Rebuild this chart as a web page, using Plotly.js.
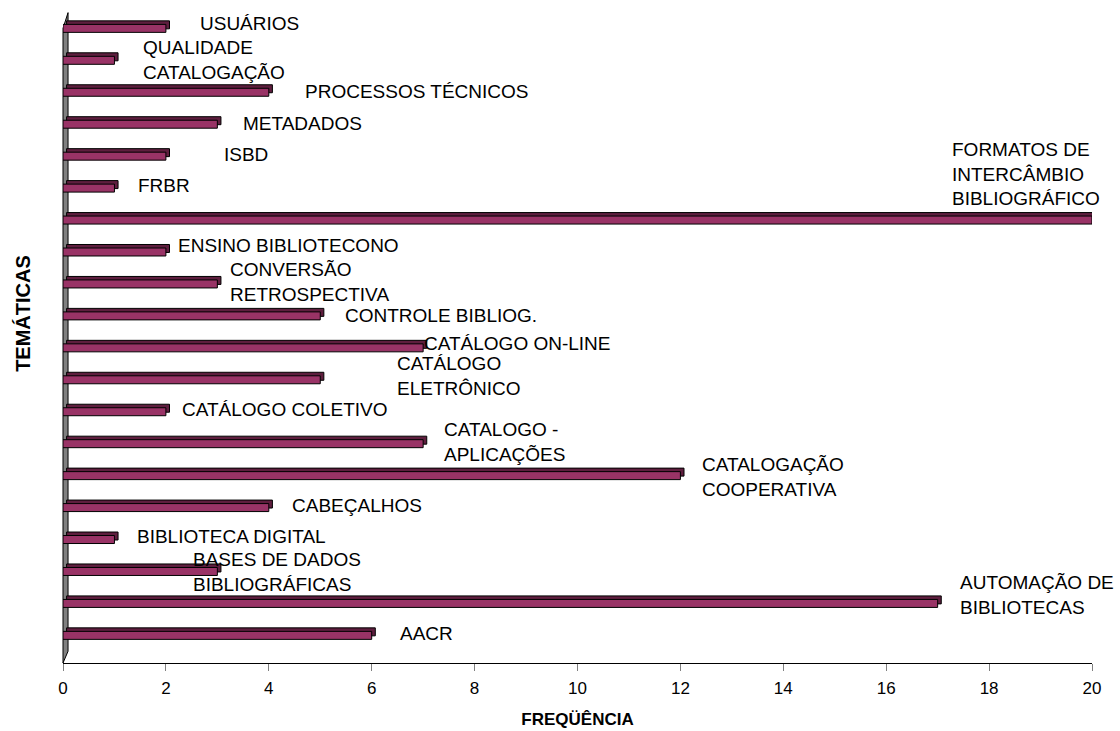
<!DOCTYPE html>
<html>
<head>
<meta charset="utf-8">
<script src="https://cdn.plot.ly/plotly-3.0.1.min.js"></script>
<style>html,body{margin:0;padding:0;background:#fff}#chart{width:1120px;height:731px}</style>
</head>
<body>
<div id="chart"></div>
<script>
// Categories bottom → top
var categories = [
  "AACR",
  "AUTOMAÇÃO DE BIBLIOTECAS",
  "BASES DE DADOS BIBLIOGRÁFICAS",
  "BIBLIOTECA DIGITAL",
  "CABEÇALHOS",
  "CATALOGAÇÃO COOPERATIVA",
  "CATALOGO - APLICAÇÕES",
  "CATÁLOGO COLETIVO",
  "CATÁLOGO ELETRÔNICO",
  "CATÁLOGO ON-LINE",
  "CONTROLE BIBLIOG.",
  "CONVERSÃO RETROSPECTIVA",
  "ENSINO BIBLIOTECONO",
  "FORMATOS DE INTERCÂMBIO BIBLIOGRÁFICO",
  "FRBR",
  "ISBD",
  "METADADOS",
  "PROCESSOS TÉCNICOS",
  "QUALIDADE CATALOGAÇÃO",
  "USUÁRIOS"
];
var frequencies = [6, 17, 3, 1, 4, 12, 7, 2, 5, 7, 5, 3, 2, 20, 1, 2, 3, 4, 1, 2];
var labelTexts = [
  "AACR",
  "AUTOMAÇÃO DE<br>BIBLIOTECAS",
  "BASES DE DADOS<br>BIBLIOGRÁFICAS",
  "BIBLIOTECA DIGITAL",
  "CABEÇALHOS",
  "CATALOGAÇÃO<br>COOPERATIVA",
  "CATALOGO -<br>APLICAÇÕES",
  "CATÁLOGO COLETIVO",
  "CATÁLOGO<br>ELETRÔNICO",
  "CATÁLOGO ON-LINE",
  "CONTROLE BIBLIOG.",
  "CONVERSÃO<br>RETROSPECTIVA",
  "ENSINO BIBLIOTECONO",
  "FORMATOS DE<br>INTERCÂMBIO<br>BIBLIOGRÁFICO",
  "FRBR",
  "ISBD",
  "METADADOS",
  "PROCESSOS TÉCNICOS",
  "QUALIDADE<br>CATALOGAÇÃO",
  "USUÁRIOS"
];
var xTicks = [0, 2, 4, 6, 8, 10, 12, 14, 16, 18, 20];

// label placement (pixel offsets from bar end / bar centre) – style only
var labelDx = [26, 20, -26, 21, 21, 20, 19, 14, 75, -1, 23, 11, 10, -142, 22, 56, 24, 34, 27, 32];
var labelDy = [-1, 6, -3, 1, 0, -4, -1, 0, 1, 2, -2, 0, 4, 44, 0, -1, -2, -2, -2, 2];

var FONT = 'Liberation Sans, Arial, sans-serif';
var barFront = '#993366', barTop = '#5e1e3e';

var traceBack = {
  type: 'bar', orientation: 'h',
  y: categories, x: frequencies, base: 0.07,
  width: 0.25, offset: -0.09,
  marker: {color: barTop, line: {color: '#000', width: 1}},
  hoverinfo: 'skip', showlegend: false
};
var traceFront = {
  type: 'bar', orientation: 'h',
  y: categories, x: frequencies, base: 0,
  width: 0.25, offset: -0.2,
  marker: {color: barFront, line: {color: '#000', width: 1}},
  showlegend: false
};

var annotations = categories.map(function (c, i) {
  return {
    x: frequencies[i], y: c, xref: 'x', yref: 'y',
    text: labelTexts[i], showarrow: false,
    xanchor: 'left', yanchor: 'middle', align: 'left',
    xshift: labelDx[i], yshift: labelDy[i],
    font: {family: FONT, size: 19, color: '#000'}
  };
});
annotations.push({
  xref: 'paper', yref: 'paper', x: -0.039, y: 0.536,
  text: '<b>TEMÁTICAS</b>', textangle: -90, showarrow: false,
  xanchor: 'center', yanchor: 'middle',
  font: {family: FONT, size: 20, color: '#000'}
});

var layout = {
  width: 1120, height: 731,
  margin: {l: 63, r: 28, t: 10, b: 68},
  paper_bgcolor: '#fff', plot_bgcolor: '#fff',
  barmode: 'overlay', bargap: 0,
  xaxis: {
    range: [0, 20], tickvals: xTicks, ticktext: xTicks.map(String),
    showgrid: false, zeroline: false,
    showline: true, linecolor: '#000', linewidth: 1,
    ticks: 'outside', ticklen: 7, tickcolor: '#808080', tickwidth: 1,
    ticklabelstandoff: 3,
    tickfont: {family: FONT, size: 17, color: '#000'},
    title: {text: '<b>FREQÜÊNCIA</b>', standoff: 15,
            font: {family: FONT, size: 17, color: '#000'}}
  },
  yaxis: {
    type: 'category', categoryorder: 'array', categoryarray: categories,
    range: [-0.94, 19.5], showticklabels: false, showgrid: false,
    zeroline: false, showline: false, ticks: ''
  },
  shapes: [
    {type: 'path', xref: 'paper', yref: 'paper', layer: 'below',
     path: 'M 0 0 L 0 0.972 L 0.0049 0.996 L 0.0049 0.018 Z',
     fillcolor: '#808080', line: {color: '#000', width: 1}}
  ],
  annotations: annotations
};

Plotly.newPlot('chart', [traceBack, traceFront], layout, {displayModeBar: false, staticPlot: true});
</script>
</body>
</html>
